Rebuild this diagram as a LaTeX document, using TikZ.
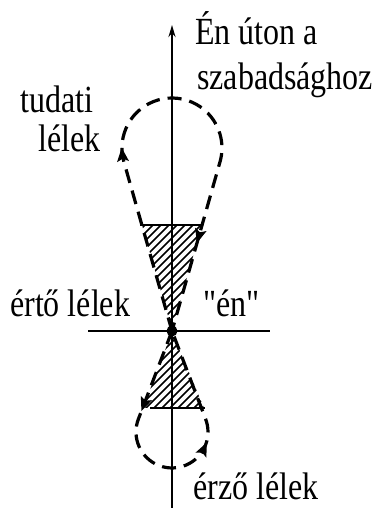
\documentclass[tikz,border=0pt]{standalone}
\usepackage{fontspec}
\setmainfont{Liberation Serif}[Ligatures=TeXOff]
\usetikzlibrary{arrows.meta,decorations.markings}
\newcommand\looptipshape{\fill[solid] (5pt,0) -- (-9pt,6pt) -- (-6pt,0) -- (-9pt,-6pt) -- cycle;}
\begin{document}
\begin{tikzpicture}[x=1pt,y=1pt,
  lbl/.style={font=\fontsize{32}{36}\selectfont, inner sep=0pt, anchor=base west, yscale=1.2, transform shape},
  loopline/.style={line width=3.2pt, dash pattern=on 14pt off 8pt},
  hatchline/.style={line width=1.6pt},
  axisline/.style={line width=2pt},
  edgeline/.style={line width=1.8pt},
  dotnode/.style={circle, fill=black, inner sep=0pt, minimum size=11pt}]
\useasboundingbox (0,0) rectangle (385,508);

% axis and horizontal line
\coordinate (bot) at (172,0);
\coordinate (top) at (172,483);
\draw[axisline, -{Stealth[length=12pt,width=7pt]}] (bot) -- (top);
\coordinate (hl) at (88,177);
\coordinate (hr) at (270,177);
\draw[axisline] (hl) -- (hr);

\coordinate (apex) at (172,177);

% hatching upper
\begin{scope}
  \clip (172,178) -- (142,283) -- (202,283) -- cycle;
  \foreach \c in {70,78,...,250} \draw[hatchline] (100,\c) -- ++(150,150);
\end{scope}
\draw[edgeline] (140,283) -- (203,283);

% hatching lower
\begin{scope}
  \clip (172,176) -- (143,100) -- (204,100) -- cycle;
  \foreach \c in {-10,-2,...,140} \draw[hatchline] (100,\c) -- ++(150,150);
\end{scope}
\draw[edgeline] (150,100) -- (205,100);

% upper loop
\coordinate (tl) at (123.9,346.2);
\draw[loopline, postaction={decorate},
  decoration={markings,
    mark=at position 0.345 with {\looptipshape},
    mark=at position 0.82 with {\looptipshape}}]
  (apex) -- (tl) arc[start angle=196, end angle=-16, radius=50] -- cycle;

% lower loop
\coordinate (bl) at (138.4,89);
\draw[loopline, postaction={decorate},
  decoration={markings,
    mark=at position 0.246 with {\looptipshape},
    mark=at position 0.625 with {\looptipshape}}]
  (apex) -- (bl) arc[start angle=158.9, end angle=381.1, radius=36] -- cycle;

\node[dotnode] (en) at (apex) {};

% labels
\node[lbl] (l1) at (195,463) {Én úton a};
\node[lbl] (l2) at (197,418) {szabadsághoz};
\node[lbl] (l3) at (20,395) {tudati};
\node[lbl] (l4) at (38,356) {lélek};
\node[lbl] (l5) at (10,191) {értő lélek};
\node[lbl] (l6) at (203,191) {"én"};
\node[lbl] (l7) at (193,8) {érző lélek};
\end{tikzpicture}
\end{document}
